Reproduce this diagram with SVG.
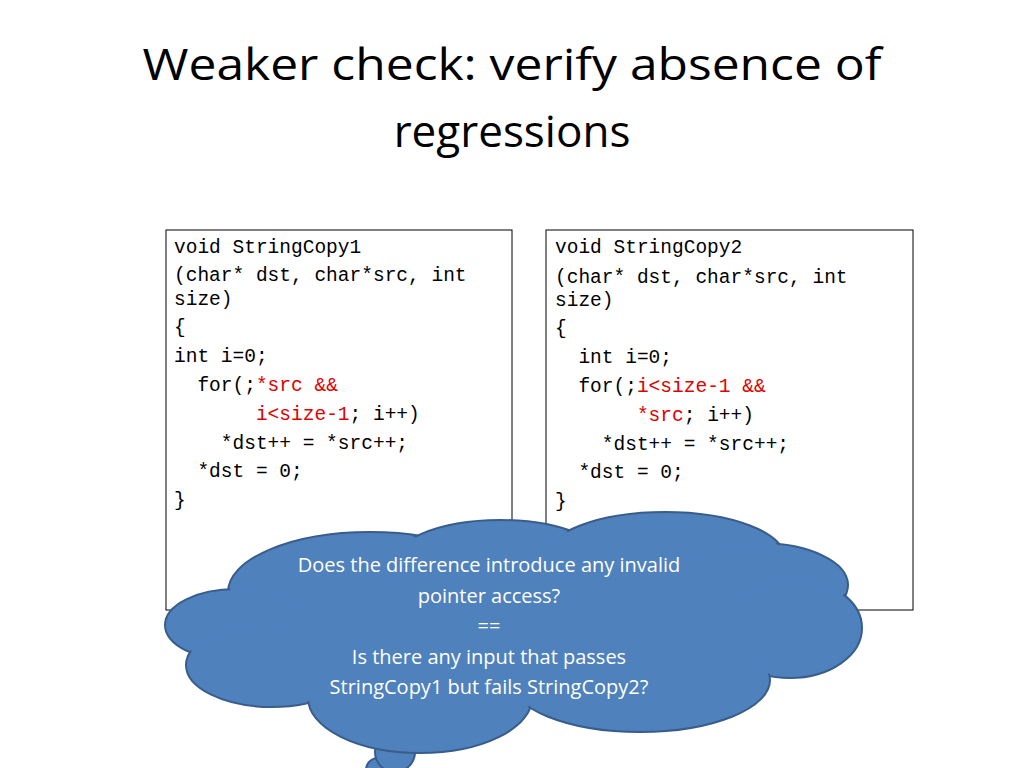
<svg xmlns="http://www.w3.org/2000/svg" width="1024" height="768" viewBox="0 0 1024 768">
<style>
.t{font-family:"Open Sans","Liberation Sans",sans-serif;font-size:44px;fill:#000;text-anchor:middle}
.c{font-family:"Liberation Mono","DejaVu Sans Mono",monospace;font-size:19.5px;fill:#000}
.r{fill:#e00000}
.box{fill:#fff;stroke:#000;stroke-width:1}
.cl{fill:#4F81BD;stroke:#385D8A;stroke-width:2}
.cf{fill:#4F81BD;stroke:none}
.ct{font-family:"Open Sans","Liberation Sans",sans-serif;font-size:20px;fill:#fff;text-anchor:middle}
</style>
<rect width="1024" height="768" fill="#fff"/>
<text class="t" x="512" y="80" textLength="739" lengthAdjust="spacingAndGlyphs">Weaker check: verify absence of</text>
<text class="t" x="512" y="147">regressions</text>
<g id="code1">
<rect class="box" x="166" y="230" width="346" height="380"/>
<text class="c" x="174" y="253">void StringCopy1</text>
<text class="c" x="174" y="281">(char* dst, char*src, int</text>
<text class="c" x="174" y="305">size)</text>
<text class="c" x="174" y="333">{</text>
<text class="c" x="174" y="362">  int i=0;</text>
<text class="c" x="174" y="391" xml:space="preserve">  for(;<tspan class="r">*src &amp;&amp;</tspan></text>
<text class="c" x="174" y="420" xml:space="preserve">       <tspan class="r">i&lt;size-1</tspan>; i++)</text>
<text class="c" x="174" y="449" xml:space="preserve">    *dst++ = *src++;</text>
<text class="c" x="174" y="477" xml:space="preserve">  *dst = 0;</text>
<text class="c" x="174" y="506">}</text>
</g>
<g id="code2">
<rect class="box" x="546" y="230" width="367" height="380"/>
<text class="c" x="555" y="253">void StringCopy2</text>
<text class="c" x="555" y="283">(char* dst, char*src, int</text>
<text class="c" x="555" y="306">size)</text>
<text class="c" x="555" y="334">{</text>
<text class="c" x="555" y="363" xml:space="preserve">  int i=0;</text>
<text class="c" x="555" y="392" xml:space="preserve">  for(;<tspan class="r">i&lt;size-1 &amp;&amp;</tspan></text>
<text class="c" x="555" y="421" xml:space="preserve">       <tspan class="r">*src</tspan>; i++)</text>
<text class="c" x="555" y="450" xml:space="preserve">    *dst++ = *src++;</text>
<text class="c" x="555" y="478" xml:space="preserve">  *dst = 0;</text>
<text class="c" x="555" y="507">}</text>
</g>
<g id="cloud">
<circle class="cl" cx="378" cy="770" r="12"/>
<circle class="cl" cx="395" cy="752" r="20"/>
<g class="cl">
<ellipse cx="370" cy="592" rx="142" ry="60"/>
<ellipse cx="236" cy="625" rx="71" ry="36"/>
<ellipse cx="272" cy="665" rx="86" ry="42"/>
<ellipse cx="420" cy="698" rx="112" ry="55"/>
<ellipse cx="500" cy="568" rx="112" ry="48"/>
<ellipse cx="665" cy="558" rx="120" ry="46"/>
<ellipse cx="760" cy="585" rx="88" ry="42"/>
<ellipse cx="790" cy="628" rx="72" ry="50"/>
<ellipse cx="640" cy="680" rx="130" ry="52"/>
</g>
<g class="cf">
<ellipse cx="370" cy="592" rx="140" ry="58"/>
<ellipse cx="236" cy="625" rx="69" ry="34"/>
<ellipse cx="272" cy="665" rx="84" ry="40"/>
<ellipse cx="420" cy="698" rx="110" ry="53"/>
<ellipse cx="500" cy="568" rx="110" ry="46"/>
<ellipse cx="665" cy="558" rx="118" ry="44"/>
<ellipse cx="760" cy="585" rx="86" ry="40"/>
<ellipse cx="790" cy="628" rx="70" ry="48"/>
<ellipse cx="640" cy="680" rx="128" ry="50"/>
<rect x="300" y="590" width="440" height="100"/>
</g>
<text class="ct" x="489" y="572">Does the difference introduce any invalid</text>
<text class="ct" x="489" y="603">pointer access?</text>
<text class="ct" x="489" y="633">==</text>
<text class="ct" x="489" y="664">Is there any input that passes</text>
<text class="ct" x="489" y="694">StringCopy1 but fails StringCopy2?</text>
</g>
</svg>
